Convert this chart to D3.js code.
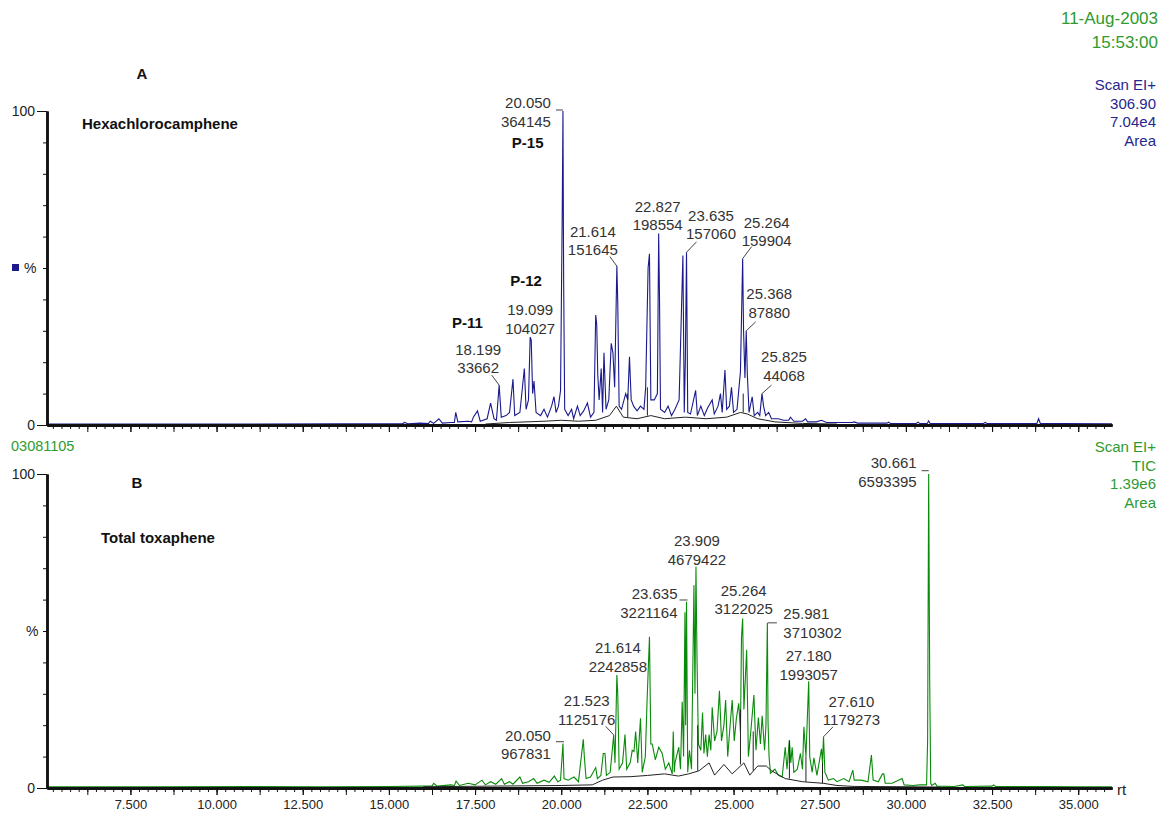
<!DOCTYPE html>
<html>
<head>
<meta charset="utf-8">
<script src="https://cdn.jsdelivr.net/npm/d3@7"></script>
<style>
  body { margin: 0; background: #fff; }
  text { font-family: "Liberation Sans", Arial, sans-serif; }
</style>
</head>
<body>
<script>
// retention time axis
const rtDomain = [5.08, 35.98];
const xTickLabels = [7.5, 10, 12.5, 15, 17.5, 20, 22.5, 25, 27.5, 30, 32.5, 35];
const yTickLabels = [0, 100];

// panel A - hexachlorocamphene (m/z 306.90), [rt, %]
const traceA = [[5.08,0.3],[8.0,0.3],[11.0,0.3],[13.5,0.4],[15.0,0.4],[15.4,0.4],[15.45,0.8],[15.55,0.4],[15.9,0.6],[16.15,0.5],[16.2,1.2],[16.3,0.5],
  [16.45,2.0],[16.55,0.6],[16.8,0.8],[16.9,0.8],[16.94,4.0],[17.0,1.0],[17.3,1.2],[17.4,1.0],[17.45,2.5],[17.57,4.5],[17.65,1.2],[17.85,2.0],
  [17.95,7.0],[18.05,2.0],[18.12,1.5],[18.199,12.7],[18.26,2.5],[18.4,3.0],[18.5,4.0],[18.6,14.6],[18.65,3.0],[18.8,4.0],
  [18.93,18.0],[18.98,5.0],[19.05,8.0],[19.099,28.0],[19.13,27.0],[19.17,10.0],[19.21,14.0],[19.27,4.0],[19.4,3.0],[19.5,5.0],
  [19.6,2.5],[19.72,6.0],[19.79,9.0],[19.85,4.0],[19.92,6.0],[19.98,11.0],[20.03,69.0],[20.05,100],[20.07,46.0],[20.1,5.0],
  [20.2,3.0],[20.3,5.0],[20.36,2.0],[20.47,6.0],[20.55,3.0],[20.65,4.5],[20.76,7.0],[20.85,2.5],[20.95,4.0],[21.0,35.0],
  [21.03,32.0],[21.06,16.0],[21.1,8.0],[21.16,18.0],[21.2,4.0],[21.24,23.0],[21.3,5.0],[21.38,8.0],[21.45,26.0],[21.5,23.0],
  [21.55,12.0],[21.614,50.6],[21.64,39.0],[21.68,6.0],[21.75,5.0],[21.87,10.0],[21.93,8.0],[21.98,21.7],[22.03,8.0],[22.1,6.0],
  [22.2,4.5],[22.3,6.0],[22.4,5.0],[22.45,12.0],[22.52,50.0],[22.56,54.5],[22.6,8.0],[22.7,8.0],[22.79,10.0],[22.827,61.0],
  [22.85,42.0],[22.88,5.0],[23.0,4.0],[23.1,6.0],[23.2,3.0],[23.3,5.0],[23.42,8.0],[23.53,54.0],[23.57,4.0],[23.6,20.0],
  [23.635,55.0],[23.67,4.0],[23.75,3.5],[23.9,11.0],[23.95,3.0],[24.05,6.0],[24.15,3.0],[24.25,5.5],[24.38,8.0],[24.44,3.5],
  [24.55,6.0],[24.62,10.0],[24.67,4.0],[24.75,17.5],[24.8,5.0],[24.88,6.0],[24.94,12.0],[25.0,4.0],[25.1,5.0],[25.2,17.0],
  [25.264,53.0],[25.29,30.0],[25.33,15.0],[25.368,30.0],[25.4,16.0],[25.45,4.0],[25.54,9.0],[25.6,3.0],[25.7,4.0],[25.76,3.0],
  [25.825,10.0],[25.87,6.0],[25.93,3.0],[26.02,4.0],[26.1,2.0],[26.3,2.0],[26.45,1.5],[26.6,1.5],[26.65,2.5],[26.75,1.2],
  [27.0,1.2],[27.09,2.0],[27.15,1.0],[27.4,1.0],[27.55,1.5],[27.7,0.8],[28.0,0.8],[28.45,0.8],[28.5,1.0],[28.6,0.6],[29.0,0.6],
  [29.45,0.6],[29.5,0.9],[29.55,0.5],[30.3,0.5],[30.35,0.9],[30.4,0.5],[30.62,0.5],[30.66,1.3],[30.7,0.5],[31.5,0.5],[32.25,0.5],
  [32.3,0.8],[32.35,0.5],[33.8,0.5],[33.85,2.0],[33.9,0.5],[34.5,0.5],[35.98,0.4]];
const baseA = [[17.8,0.3],[18.5,0.8],[19.5,1.2],[20.0,1.5],[20.5,1.2],[21.0,1.5],[21.4,3.0],[21.6,6.0],[21.8,2.5],[22.2,2.0],
  [22.6,3.0],[23.0,2.0],[23.6,2.5],[24.2,2.0],[24.8,2.5],[25.2,4.0],[25.4,3.5],[25.7,2.0],[26.2,1.0],[27.0,0.5],[28.0,0.3]];
const dropA = [[21.93,2.5,10],[22.5,3,12],[25.28,4,10]];
const peakRtA = [18.199, 19.099, 20.050, 21.614, 22.827, 23.635, 25.264, 25.368, 25.825];
const peakAreaA = [33662, 104027, 364145, 151645, 198554, 157060, 159904, 87880, 44068];
const peakPctA = [12.7, 28, 100, 50.6, 61, 55, 53, 30, 10];

// panel B - total toxaphene (TIC), [rt, %]
const traceB = [[5.08,0.4],[8.0,0.4],[11.0,0.5],[13.0,0.4],[15.0,0.5],[16.0,0.6],[16.25,0.6],[16.3,1.5],[16.4,0.6],[16.8,1.0],[16.9,0.8],[16.95,2.2],
  [17.05,0.8],[17.3,1.5],[17.5,1.0],[17.7,2.5],[17.8,1.0],[17.95,2.0],[18.1,1.2],[18.27,3.0],[18.35,1.2],[18.5,2.0],
  [18.6,1.2],[18.8,3.5],[18.88,1.5],[19.05,2.0],[19.2,3.0],[19.3,1.5],[19.5,2.5],[19.65,1.8],[19.8,3.8],[19.9,2.0],
  [19.98,2.5],[20.05,14.2],[20.08,3.0],[20.2,2.5],[20.37,3.5],[20.5,2.0],[20.64,15.5],[20.67,10.0],[20.72,3.0],[20.85,3.5],
  [21.0,6.5],[21.05,3.0],[21.15,4.0],[21.22,11.0],[21.27,11.0],[21.31,4.0],[21.42,5.0],[21.48,12.0],[21.523,16.9],[21.56,8.0],
  [21.614,36.0],[21.64,30.0],[21.68,6.0],[21.78,8.0],[21.85,17.0],[21.9,6.0],[22.0,8.0],[22.06,12.0],[22.11,11.6],[22.16,18.0],
  [22.22,8.0],[22.3,22.2],[22.35,5.0],[22.44,10.0],[22.49,27.6],[22.56,48.2],[22.6,14.0],[22.64,14.0],[22.73,9.0],[22.83,13.0],
  [22.93,11.0],[23.02,6.0],[23.12,8.0],[23.22,4.5],[23.25,18.0],[23.28,5.0],[23.3,8.0],[23.41,13.0],[23.46,6.0],[23.51,27.5],[23.55,10.0],[23.59,56.0],[23.61,20.0],
  [23.635,59.3],[23.67,5.0],[23.72,12.0],[23.78,6.0],[23.85,64.6],[23.88,30.0],[23.909,70.5],[23.94,40.8],[23.98,14.0],[24.05,12.0],
  [24.1,24.0],[24.14,11.0],[24.19,17.0],[24.24,10.0],[24.29,17.0],[24.34,12.0],[24.38,25.7],[24.45,15.0],[24.52,18.0],[24.59,31.0],[24.65,15.0],[24.72,20.0],
  [24.77,28.0],[24.83,10.0],[24.9,20.0],[24.96,28.0],[25.02,15.0],[25.08,22.0],[25.15,27.0],[25.2,18.0],[25.23,48.0],[25.264,54.0],
  [25.3,25.0],[25.38,44.0],[25.43,10.0],[25.5,18.0],[25.59,29.6],[25.65,12.0],[25.72,22.4],[25.78,14.0],[25.83,23.0],[25.9,12.0],
  [25.94,20.0],[25.981,52.6],[26.0,21.0],[26.03,10.0],[26.07,4.7],[26.2,6.0],[26.3,4.0],[26.41,3.5],[26.5,13.0],[26.55,6.0],
  [26.62,15.3],[26.66,8.0],[26.7,13.0],[26.75,5.0],[26.85,6.0],[26.94,11.0],[27.0,6.0],[27.04,19.5],[27.1,10.0],[27.18,34.0],
  [27.21,10.0],[27.28,5.0],[27.33,9.6],[27.42,4.0],[27.55,12.5],[27.58,8.0],[27.61,16.3],[27.65,5.0],[27.75,2.5],[27.9,3.0],
  [28.0,2.0],[28.2,3.0],[28.35,2.0],[28.46,5.7],[28.5,2.5],[28.7,2.5],[28.9,2.0],[29.0,10.5],[29.05,2.5],[29.2,2.0],
  [29.32,4.5],[29.36,4.5],[29.4,1.5],[29.6,1.5],[29.89,3.0],[29.95,1.0],[30.2,0.8],[30.4,1.0],[30.6,1.0],[30.63,15.0],
  [30.661,100],[30.69,35.0],[30.72,1.5],[30.75,0.8],[30.85,1.5],[30.9,0.6],[31.4,0.5],[31.65,1.0],[31.7,0.5],[32.5,0.6],
  [32.55,1.0],[32.6,0.5],[34.0,0.5],[35.0,0.4],[35.98,0.4]];
const baseB = [[16.0,0.4],[18.0,0.6],[20.0,0.8],[20.9,1.0],[21.2,2.5],[21.5,3.5],[22.0,3.6],[22.5,4.0],[23.0,4.5],[23.4,3.8],
  [23.7,4.5],[24.0,5.5],[24.29,8.0],[24.45,4.1],[24.72,7.5],[24.96,4.5],[25.3,8.0],[25.47,4.1],[25.7,7.0],[25.95,7.0],
  [26.1,5.5],[26.5,3.0],[27.0,2.0],[27.6,1.5],[28.0,0.8],[28.5,0.5],[30.0,0.4],[31.0,0.3]];
const dropB = [[23.96,5.5,20],[25.2,7.5,25],[25.57,5.5,18],[26.62,3,15],[27.1,2,10],[27.58,1.5,8]];
const peakRtB = [20.050, 21.523, 21.614, 23.635, 23.909, 25.264, 25.981, 27.180, 27.610, 30.661];
const peakAreaB = [967831, 1125176, 2242858, 3221164, 4679422, 3122025, 3710302, 1993057, 1179273, 6593395];
const peakPctB = [14.2, 16.9, 36, 59.3, 70.5, 54, 52.6, 34, 16.3, 100];

// label layout (pixels relative to peak top): anchor, dx, dy, leader
const layoutA = [
  ['middle', -21, -36, {line: [-7.5, -10]}],
  ['middle', 0, -27, null],
  ['end', -12, -8, {dash: [-7, 0, -1]}],
  ['middle', -24, -35, {line: [-7, -9.5]}],
  ['middle', -1, -27, null],
  ['middle', 24.5, -37, {line: [10, -10.5]}],
  ['middle', 24, -36, {line: [9, -12]}],
  ['middle', 23, -37, {line: [9.5, -9]}],
  ['middle', 22, -37, {line: [9.5, -8.5]}]
];
const layoutB = [
  ['end', -12, -8, {dash: [-7, 1, -1.7]}],
  ['middle', -27, -34, {line: [-8, -8.5]}],
  ['middle', 1, -27, null],
  ['end', -9, -8, {dash: [-7, 1, -1.8]}],
  ['middle', 1, -26, null],
  ['middle', 1, -28, null],
  ['start', 16, -9, {dash: [0.5, 9.5, 0]}],
  ['middle', 0, -25.5, null],
  ['middle', 28, -35.5, {line: [9.5, -10]}],
  ['end', -12, -11, {dash: [-7, 0, -3.3]}]
];
const tagsA = [['P-11', 0, -31.7, -62.6], ['P-12', 1, -4.2, -56], ['P-15', 2, -35.3, 31.5]];

const W = 1162, H = 813;
const blue = '#1a1a8c', green = '#0a8a0a', blueTxt = '#26268f', greenTxt = '#2f9a2f';

const svg = d3.select('body').append('svg')
  .attr('width', W)
  .attr('height', H);

const x = d3.scaleLinear().domain(rtDomain).range([47, 1112]);
const yA = d3.scaleLinear().domain([0, 100]).range([425, 111]);
const yB = d3.scaleLinear().domain([0, 100]).range([788, 474]);

function txt(str, px, py, size, opts) {
  opts = opts || {};
  return svg.append('text')
    .attr('x', px)
    .attr('y', py + size * 0.36)
    .attr('font-size', size)
    .attr('text-anchor', opts.anchor || 'start')
    .attr('font-weight', opts.bold ? 700 : 400)
    .attr('fill', opts.color || '#222')
    .text(str);
}

function xAxis(y0, labels) {
  let g = svg.append('g').attr('transform', `translate(0,${y0})`);
  g.append('g').call(d3.axisBottom(x).tickValues(d3.range(5.25, 36, 0.25)).tickSize(4).tickFormat('').tickSizeOuter(0));
  g.append('g').call(d3.axisBottom(x).tickValues(d3.range(6.25, 36, 1.25)).tickSize(7).tickFormat('').tickSizeOuter(0));
  let lab = g.append('g').call(d3.axisBottom(x).tickValues(xTickLabels).tickSize(7).tickPadding(5)
    .tickFormat(labels ? d3.format('.3f') : '').tickSizeOuter(0));
  lab.selectAll('text').attr('font-size', 13).attr('fill', '#222');
  g.selectAll('.tick line').attr('stroke', '#111');
  g.selectAll('.domain').attr('stroke', '#111').attr('stroke-width', 2.5);
}

function yAxis(y) {
  let g = svg.append('g').attr('transform', 'translate(47,0)');
  g.append('g').call(d3.axisLeft(y).tickValues(d3.range(0, 101, 10)).tickSize(4).tickFormat('').tickSizeOuter(0));
  let lab = g.append('g').call(d3.axisLeft(y).tickValues(yTickLabels).tickSize(10).tickPadding(2).tickSizeOuter(0));
  lab.selectAll('text').attr('font-size', 14).attr('fill', '#222');
  g.selectAll('.tick line').attr('stroke', '#111');
  g.selectAll('.domain').attr('stroke', '#111').attr('stroke-width', 2.5);
}

function panel(y, trace, base, drops, rts, areas, pcts, layout, color) {
  let line = d3.line().x(d => x(d[0])).y(d => y(d[1]));
  svg.append('path').datum(trace)
    .attr('d', line)
    .attr('fill', 'none')
    .attr('stroke', color)
    .attr('stroke-width', 1.1);
  svg.append('path').datum(base)
    .attr('d', line)
    .attr('fill', 'none')
    .attr('stroke', '#222')
    .attr('stroke-width', 1);
  svg.selectAll(null).data(drops).enter().append('line')
    .attr('x1', d => x(d[0])).attr('x2', d => x(d[0]))
    .attr('y1', d => y(d[1])).attr('y2', d => y(d[2]))
    .attr('stroke', '#222');

  rts.forEach((rt, i) => {
    let px = x(rt), py = y(pcts[i]);
    let [anchor, dx, dy, lead] = layout[i];
    txt(rt.toFixed(3), px + dx, py + dy, 15, {anchor: anchor, color: '#333'});
    txt(String(areas[i]), px + dx, py + dy + 18.5, 15, {anchor: anchor, color: '#333'});
    if (lead && lead.line) {
      svg.append('line')
        .attr('x1', px + lead.line[0]).attr('y1', py + lead.line[1])
        .attr('x2', px).attr('y2', py)
        .attr('stroke', '#444');
    }
    if (lead && lead.dash) {
      svg.append('line')
        .attr('x1', px + lead.dash[0]).attr('x2', px + lead.dash[1])
        .attr('y1', py + lead.dash[2]).attr('y2', py + lead.dash[2])
        .attr('stroke', '#444');
    }
  });
}

// panel A
panel(yA, traceA, baseA, dropA, peakRtA, peakAreaA, peakPctA, layoutA, blue);
xAxis(425, false);
yAxis(yA);
tagsA.forEach(t => {
  txt(t[0], x(peakRtA[t[1]]) + t[2], yA(peakPctA[t[1]]) + t[3], 15, {anchor: 'middle', bold: true, color: '#111'});
});
txt('A', 142, 74, 15, {anchor: 'middle', bold: true, color: '#111'});
txt('Hexachlorocamphene', 82, 124, 15, {bold: true, color: '#111'});
svg.append('rect').attr('x', 12).attr('y', 264).attr('width', 7).attr('height', 7).attr('fill', blue);
txt('%', 24, 268, 14, {color: '#222'});

// panel B
panel(yB, traceB, baseB, dropB, peakRtB, peakAreaB, peakPctB, layoutB, green);
xAxis(788, true);
yAxis(yB);
txt('B', 137, 483, 15, {anchor: 'middle', bold: true, color: '#111'});
txt('Total toxaphene', 101, 538, 15, {bold: true, color: '#111'});
txt('%', 26, 631, 14, {color: '#222'});
txt('rt', 1117, 790, 15, {color: '#222'});

// header / side info
txt('11-Aug-2003', 1158, 18, 17, {anchor: 'end', color: greenTxt});
txt('15:53:00', 1158, 42, 17, {anchor: 'end', color: greenTxt});
['Scan EI+', '306.90', '7.04e4', 'Area'].forEach((s, i) => {
  txt(s, 1156, 85 + i * 18.4, 15, {anchor: 'end', color: blueTxt});
});
['Scan EI+', 'TIC', '1.39e6', 'Area'].forEach((s, i) => {
  txt(s, 1156, 447 + i * 18.4, 15, {anchor: 'end', color: greenTxt});
});
txt('03081105', 11, 446, 14.5, {color: greenTxt});
</script>
</body>
</html>
